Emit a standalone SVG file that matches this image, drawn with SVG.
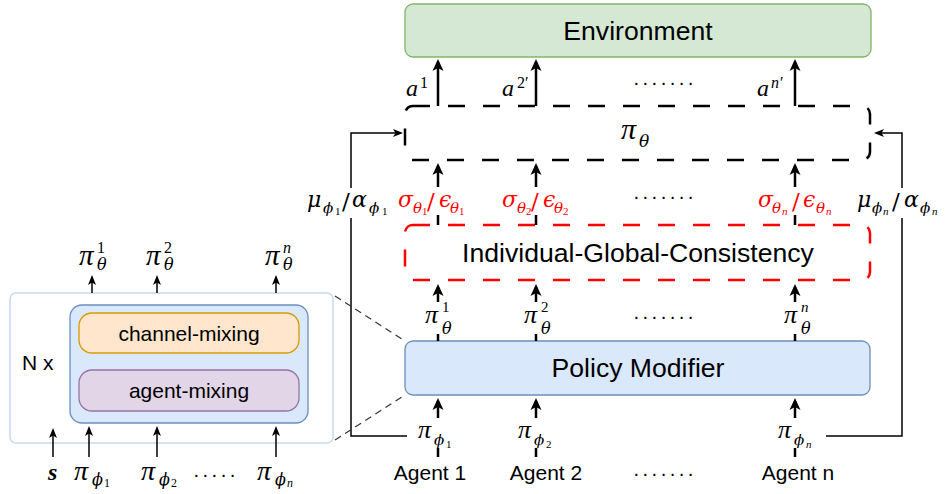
<svg xmlns="http://www.w3.org/2000/svg" width="948" height="494" viewBox="0 0 948 494">
<defs>
<style>
.t{font-family:"Liberation Sans",Arial,sans-serif;fill:#000}
.big{font-size:26.6px;text-anchor:middle}
.med{font-size:21px}
.mid{text-anchor:middle}
.g{font-family:"DejaVu Serif",serif;font-style:italic;fill:#000}
.p{font-family:"Liberation Serif",serif;font-style:italic;fill:#000}
.l{font-family:"Liberation Serif",serif;fill:#000}
.i{font-style:italic}
.sl{font-family:"DejaVu Serif",serif;font-style:normal;font-size:23px}
.red{fill:#ff0000}
.th{stroke:#000;stroke-width:2.5;fill:none}
.tn{stroke:#000;stroke-width:1.5;fill:none}
.dots{font-family:"Liberation Sans",sans-serif;font-size:20px;letter-spacing:2.4px;fill:#000}
.dash{stroke-width:2.5;stroke-dasharray:17 18;fill:none}
</style>
<marker id="ah" viewBox="0 0 12 12" markerUnits="userSpaceOnUse" markerWidth="12" markerHeight="12" refX="9" refY="6" orient="auto"><path d="M0,0.5 L12,6 L0,11.5 L3,6 z" fill="#000"/></marker>
<marker id="as" viewBox="0 0 10 10" markerUnits="userSpaceOnUse" markerWidth="10" markerHeight="10" refX="8" refY="5" orient="auto"><path d="M0,1 L10,5 L0,9 L2.5,5 z" fill="#000"/></marker>
</defs>

<g id="left-panel">
<rect x="10" y="293" width="323" height="150" rx="6" fill="#fff" stroke="#c6d9f0" stroke-width="1.5"/>
<text class="t med" x="22" y="370">N x</text>
<g id="mixer">
<rect x="70" y="305" width="238" height="118" rx="12" fill="#dae8fc" stroke="#6c8ebf" stroke-width="1.3"/>
</g>
<g id="channel-mixing">
<rect x="79" y="313" width="220" height="40" rx="13" fill="#ffe6cc" stroke="#d79b00" stroke-width="1.3"/>
<text class="t med mid" x="189" y="341">channel-mixing</text>
</g>
<g id="agent-mixing">
<rect x="79" y="370" width="220" height="41" rx="13" fill="#e1d5e7" stroke="#9673a6" stroke-width="1.3"/>
<text class="t med mid" x="189" y="398">agent-mixing</text>
</g>
</g>

<g id="environment">
<rect x="405" y="4" width="466" height="53" rx="8" fill="#d5e8d4" stroke="#82b366" stroke-width="1.3"/>
<text class="t big" x="638" y="40">Environment</text>
</g>

<g id="pi-theta">
<rect x="405" y="106" width="465" height="54" rx="8" class="dash" stroke="#000"/>
<text class="p" font-size="30" x="621" y="139">π</text>
<text class="g" font-size="17" x="639" y="147">θ</text>
</g>

<g id="igc">
<rect x="405" y="225" width="465" height="55" rx="8" class="dash" stroke="#ff0000"/>
<text class="t big" x="638" y="262">Individual-Global-Consistency</text>
</g>

<g id="policy-modifier">
<rect x="405" y="341" width="465" height="54" rx="8" fill="#dae8fc" stroke="#6c8ebf" stroke-width="1.3"/>
<text class="t big" x="638" y="377">Policy Modifier</text>
</g>

<g id="agents">
<text class="t med mid" x="430" y="480">Agent 1</text>
<text class="t med mid" x="546" y="480">Agent 2</text>
<text class="t med mid" x="798" y="480">Agent n</text>
<text class="dots" x="633" y="480">·······</text>
</g>

<g id="connectors">
<path class="th" d="M438,106 L438,62" marker-end="url(#ah)"/>
<path class="th" d="M536,106 L536,62" marker-end="url(#ah)"/>
<path class="th" d="M795,106 L795,62" marker-end="url(#ah)"/>
<path class="th" d="M438,225 L438,215 M536,225 L536,215 M795,225 L795,215"/>
<path class="th" d="M438,187 L438,166" marker-end="url(#ah)"/>
<path class="th" d="M536,187 L536,166" marker-end="url(#ah)"/>
<path class="th" d="M795,187 L795,166" marker-end="url(#ah)"/>
<path class="th" d="M438,341 L438,334 M536,341 L536,334 M795,341 L795,334"/>
<path class="th" d="M438,302 L438,287" marker-end="url(#ah)"/>
<path class="th" d="M536,302 L536,287" marker-end="url(#ah)"/>
<path class="th" d="M795,302 L795,287" marker-end="url(#ah)"/>
<path class="th" d="M438,457 L438,448 M536,457 L536,448 M795,457 L795,448"/>
<path class="th" d="M438,418 L438,401" marker-end="url(#ah)"/>
<path class="th" d="M536,418 L536,401" marker-end="url(#ah)"/>
<path class="th" d="M795,418 L795,401" marker-end="url(#ah)"/>
<path class="tn" d="M407,436 L351,436 L351,133 L401,133" marker-end="url(#as)"/>
<path class="tn" d="M826,436 L902,436 L902,133 L876,133" marker-end="url(#as)"/>
<path d="M335,296 L405,341 M335,440 L405,395" stroke="#333" stroke-width="1.2" stroke-dasharray="7 5" fill="none"/>
<path class="tn" d="M92,293 L92,277" marker-end="url(#as)"/>
<path class="tn" d="M157,293 L157,277" marker-end="url(#as)"/>
<path class="tn" d="M276,293 L276,277" marker-end="url(#as)"/>
<path class="tn" d="M53,457 L53,430" marker-end="url(#as)"/>
<path class="tn" d="M89,457 L89,428" marker-end="url(#as)"/>
<path class="tn" d="M157,457 L157,428" marker-end="url(#as)"/>
<path class="tn" d="M276,457 L276,428" marker-end="url(#as)"/>
</g>

<g id="labels">
<!-- actions -->
<text class="p" font-size="24" x="406" y="96">a</text><text class="l" font-size="16" x="420" y="88">1</text>
<text class="p" font-size="24" x="502" y="96">a</text><text class="l" font-size="16" x="517" y="88">2′</text>
<text class="p" font-size="24" x="757" y="96">a</text><text class="l i" font-size="16" x="771" y="88">n</text><text class="l" font-size="16" x="780" y="88">′</text>
<text class="dots" x="633" y="89">·······</text>

<!-- mu/alpha left -->
<rect x="304" y="188" width="90" height="30" fill="#fff"/>
<text class="g" font-size="22" x="307" y="207">μ</text>
<text class="g" font-size="15" x="323" y="213">ϕ</text>
<text class="l" font-size="11" x="335" y="215">1</text>
<text class="sl" x="342" y="209">/</text>
<text class="g" font-size="22" x="352" y="207">α</text>
<text class="g" font-size="15" x="369" y="213">ϕ</text>
<text class="l" font-size="11" x="382" y="215">1</text>

<!-- mu/alpha right -->
<rect x="855" y="188" width="92" height="30" fill="#fff"/>
<text class="g" font-size="22" x="857" y="207">μ</text>
<text class="g" font-size="15" x="872" y="213">ϕ</text>
<text class="l i" font-size="11" x="883" y="215">n</text>
<text class="sl" x="892" y="209">/</text>
<text class="g" font-size="22" x="904" y="207">α</text>
<text class="g" font-size="15" x="920" y="213">ϕ</text>
<text class="l i" font-size="11" x="932" y="215">n</text>

<!-- sigma/eps -->
<g class="red">
<text class="g red" font-size="22" x="398" y="207">σ</text>
<text class="g red" font-size="15" x="413" y="213">θ</text>
<text class="l red" font-size="11" x="422" y="215">1</text>
<text class="sl red" x="427" y="209">/</text>
<text class="g red" font-size="22" x="439" y="207">ϵ</text>
<text class="g red" font-size="15" x="450" y="213">θ</text>
<text class="l red" font-size="11" x="459" y="215">1</text>

<text class="g red" font-size="22" x="502" y="207">σ</text>
<text class="g red" font-size="15" x="517" y="213">θ</text>
<text class="l red" font-size="11" x="526" y="215">2</text>
<text class="sl red" x="531" y="209">/</text>
<text class="g red" font-size="22" x="543" y="207">ϵ</text>
<text class="g red" font-size="15" x="554" y="213">θ</text>
<text class="l red" font-size="11" x="563" y="215">2</text>

<text class="g red" font-size="22" x="758" y="207">σ</text>
<text class="g red" font-size="15" x="772" y="213">θ</text>
<text class="l i red" font-size="11" x="782" y="215">n</text>
<text class="sl red" x="792" y="209">/</text>
<text class="g red" font-size="22" x="803" y="207">ϵ</text>
<text class="g red" font-size="15" x="816" y="213">θ</text>
<text class="l i red" font-size="11" x="826" y="215">n</text>
</g>
<text class="dots" x="633" y="203">·······</text>

<!-- pi theta k (right) -->
<text class="p" font-size="26" x="425" y="323">π</text><text class="l" font-size="15" x="442" y="312">1</text><text class="g" font-size="16" x="442" y="334">θ</text>
<text class="p" font-size="26" x="524" y="323">π</text><text class="l" font-size="15" x="541" y="312">2</text><text class="g" font-size="16" x="541" y="334">θ</text>
<text class="p" font-size="26" x="784" y="323">π</text><text class="l i" font-size="15" x="801" y="312">n</text><text class="g" font-size="16" x="801" y="334">θ</text>
<text class="dots" x="633" y="323">·······</text>

<!-- pi phi (right) -->
<text class="p" font-size="26" x="418" y="438">π</text><text class="g" font-size="15" x="434" y="445">ϕ</text><text class="l" font-size="11" x="446" y="448">1</text>
<text class="p" font-size="26" x="518" y="438">π</text><text class="g" font-size="15" x="534" y="445">ϕ</text><text class="l" font-size="11" x="546" y="448">2</text>
<text class="p" font-size="26" x="778" y="438">π</text><text class="g" font-size="15" x="794" y="445">ϕ</text><text class="l i" font-size="11" x="806" y="448">n</text>

<!-- left panel labels -->
<text class="p" font-size="29" x="79" y="265">π</text><text class="l" font-size="16" x="97" y="253">1</text><text class="g" font-size="16" x="97" y="270">θ</text>
<text class="p" font-size="29" x="146" y="265">π</text><text class="l" font-size="16" x="164" y="253">2</text><text class="g" font-size="16" x="164" y="270">θ</text>
<text class="p" font-size="29" x="265" y="265">π</text><text class="l i" font-size="16" x="283" y="253">n</text><text class="g" font-size="16" x="283" y="270">θ</text>

<text class="l i" font-size="24" font-weight="bold" x="48" y="480">s</text>
<text class="p" font-size="28" x="74" y="480">π</text><text class="g" font-size="16" x="92" y="485">ϕ</text><text class="l" font-size="12" x="104" y="487">1</text>
<text class="p" font-size="28" x="141" y="480">π</text><text class="g" font-size="16" x="159" y="485">ϕ</text><text class="l" font-size="12" x="171" y="487">2</text>
<text class="p" font-size="28" x="257" y="480">π</text><text class="g" font-size="16" x="275" y="485">ϕ</text><text class="l i" font-size="12" x="287" y="487">n</text>
<text class="dots" x="193" y="481" letter-spacing="2">·····</text>
</g>
</svg>
